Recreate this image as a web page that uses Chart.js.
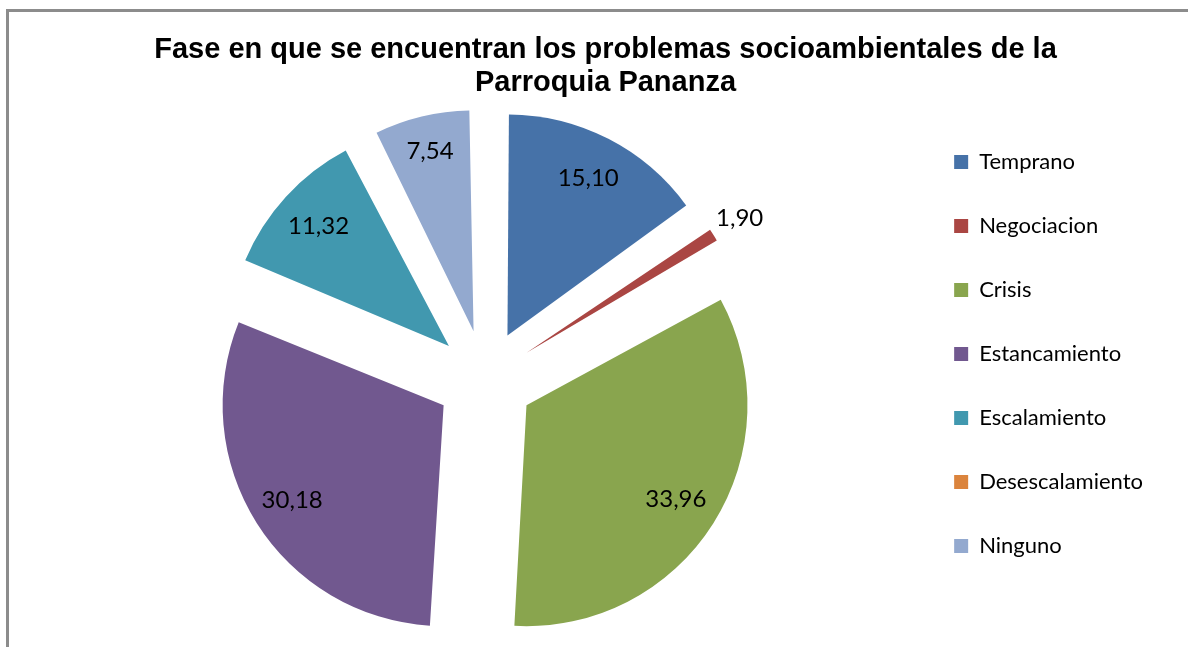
<!DOCTYPE html>
<html>
<head>
  <meta charset="UTF-8">
  <title>Fase de los problemas socioambientales</title>
  <style>
    body { margin: 0; background: #fff; overflow: hidden; }
    #frame {
      position: absolute; left: 6px; top: 9px; width: 1300px; height: 800px;
      border-top: 3px solid #8c8c8c; border-left: 3px solid #8c8c8c;
    }
    #wrap { position: absolute; left: 0; top: 0; width: 1188px; height: 647px; }
  </style>
</head>
<body>
  <div id="frame"></div>
  <div id="wrap"><canvas id="pieChart"></canvas></div>

  <script src="https://cdn.jsdelivr.net/npm/chart.js"></script>
  <script>
    const titleLines = [
      "Fase en que se encuentran los problemas socioambientales de la",
      "Parroquia Pananza",
    ];
    const categories = [
      "Temprano",
      "Negociacion",
      "Crisis",
      "Estancamiento",
      "Escalamiento",
      "Desescalamiento",
      "Ninguno",
    ];
    const values = [15.10, 1.90, 33.96, 30.18, 11.32, 0, 7.54];
    const colors = ["#4672a8", "#aa4643", "#89a54e", "#71588f", "#4198af", "#db843d", "#93a9cf"];

    const RADIUS = 221;   // pie radius in px
    const EXPLODE = 49;   // distance each slice is pulled out
    // label distance from the slice tip, as a share of the radius
    const labelPos = [0.8, 1.14, 0.8, 0.81, 0.8, 0, 0.84];

    // arc.draw grows thin slices when offset is used; undo that so all share one radius
    const keepRadius = {
      id: "keepRadius",
      afterDatasetUpdate(chart, args) {
        args.meta.data.forEach((arc) => {
          const fix = 1 - Math.sin(Math.min(Math.PI, arc.circumference || 0));
          arc.outerRadius = RADIUS - EXPLODE * fix;
        });
      },
    };

    const valueLabels = {
      id: "valueLabels",
      afterDatasetsDraw(chart) {
        const ctx = chart.ctx;
        const meta = chart.getDatasetMeta(0);
        ctx.save();
        ctx.font = "24px Lato";
        ctx.fillStyle = "#000";
        ctx.textAlign = "center";
        ctx.textBaseline = "middle";
        meta.data.forEach((arc, i) => {
          if (!values[i]) return;
          const mid = (arc.startAngle + arc.endAngle) / 2;
          const r = EXPLODE + labelPos[i] * RADIUS;
          const x = arc.x + Math.cos(mid) * r;
          const y = arc.y + Math.sin(mid) * r;
          ctx.fillText(values[i].toFixed(2).replace(".", ","), x, y);
        });
        ctx.restore();
      },
    };

    const chart = new Chart(document.getElementById("pieChart"), {
      type: "pie",
      data: {
        labels: categories,
        datasets: [
          {
            data: values,
            backgroundColor: colors,
            borderColor: colors,
            borderWidth: 0,
            offset: EXPLODE * 4,
            hoverOffset: EXPLODE * 4,
          },
        ],
      },
      options: {
        responsive: true,
        maintainAspectRatio: false,
        animation: false,
        radius: RADIUS,
        layout: {
          padding: { left: 58, right: 35, top: 0, bottom: 48 },
        },
        plugins: {
          title: {
            display: true,
            text: titleLines,
            color: "#000",
            font: { family: "'Liberation Sans', Arial", size: 29, weight: "bold", lineHeight: 33 / 29 },
            padding: { top: 33.5, bottom: 59.5 },
          },
          legend: {
            position: "right",
            align: "end",
            labels: {
              color: "#000",
              font: { family: "Lato", size: 22 },
              boxWidth: 14,
              boxHeight: 14,
              padding: 42,
            },
          },
          tooltip: { enabled: false },
        },
      },
      plugins: [keepRadius, valueLabels],
    });
  </script>
</body>
</html>
